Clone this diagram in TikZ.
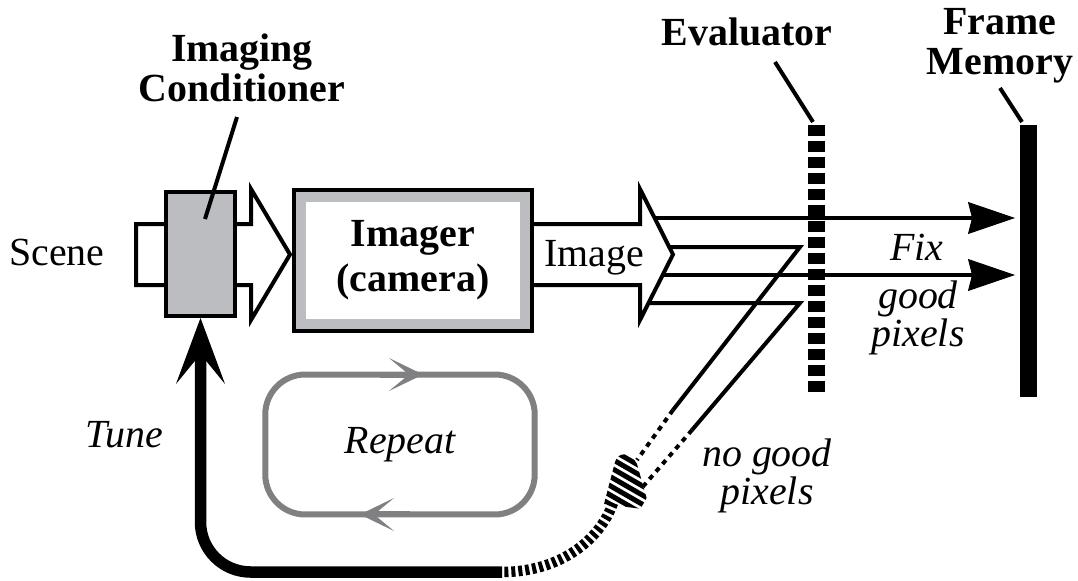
\documentclass[tikz,border=0pt]{standalone}
\usepackage{fontspec}
\setmainfont{Liberation Serif}
\usetikzlibrary{arrows.meta,calc}
\definecolor{boxgray}{RGB}{188,189,192}
\definecolor{loopgray}{RGB}{128,128,131}
\tikzset{
  big/.style={font=\fontsize{22.7}{22.8}\selectfont,inner sep=0pt},
  title/.style={big,font=\bfseries\fontsize{22.7}{22.8}\selectfont,align=center},
  note/.style={big,font=\itshape\fontsize{22.7}{22.8}\selectfont,align=center},
  block/.style={draw,fill=white,line join=miter},
  condbox/.style={draw,fill=boxgray,minimum width=1.38cm,minimum height=2.48cm,inner sep=0pt,outer sep=0pt},
  imgbox/.style={draw,fill=white,minimum width=4.76cm,minimum height=2.82cm,outer sep=0pt,align=center,
    font=\bfseries\fontsize{22.7}{25.6}\selectfont},
  loopbox/.style={draw=loopgray,line width=0.12cm,rounded corners=0.8cm,minimum width=5.39cm,
    minimum height=2.8cm,outer sep=0pt,font=\itshape\fontsize{22.7}{22.8}\selectfont},
  looptip/.style={loopgray,line width=0.12cm,-{Stealth[length=0.68cm,width=0.66cm,inset=0.4cm,line width=0.5pt]}},
  fwd/.style={-{Stealth[length=0.94cm,width=0.64cm,inset=0.08cm,line width=0.5pt]},shorten >=0.1cm},
  dots/.style={dash pattern=on 0.1cm off 0.1cm},
  tune/.style={line width=0.23cm,rounded corners=1cm,-{Stealth[length=1.32cm,width=0.98cm,inset=0.6cm,line width=0.5pt]}},
  stripes/.style={line width=0.21cm,dash pattern=on 0.08cm off 0.06cm},
  evalbar/.style={line width=0.34cm,dash pattern=on 0.22cm off 0.1cm},
  membar/.style={fill,minimum width=0.34cm,minimum height=5.44cm,inner sep=0pt,outer sep=0pt}
}

\begin{document}
\begin{tikzpicture}[x=0.02cm,y=-0.02cm,line width=0.08cm]
  \useasboundingbox (0,0) rectangle (1078,581);
  \node[membar] (M) at (1028.5,261) {};
  \coordinate (E1) at (816.5,125);
  \coordinate (E2) at (816.5,393);
  \coordinate (Z1) at (800,247);
  \coordinate (Z2) at (800,303);

  \draw[fwd] (645,218) -- (645,218 -| M.west);
  \draw[fwd] (645,275) -- (645,275 -| M.west);
  \draw (645,247) -- (Z1) -- (673,410);
  \draw[dots] (673,410) -- (637,460);
  \draw (645,303) -- (Z2) -- (692,430);
  \draw[dots] (692,430) -- (640,490);

  \draw[block] (532,224) -- (640,224) -- (640,189) -- (673,254.5) -- (640,320) -- (640,285) -- (532,285);
  \node[big,anchor=base] (img) at (594,266) {Image};
  \draw[block] (136,224) -- (251,224) -- (251,189) -- (290,254.5) -- (251,320) -- (251,285) -- (136,285) -- cycle;
  \node[big,anchor=base] (scn) at (57,265) {Scene};
  \node[condbox] (C) at (200.5,254) {};
  \node[imgbox] (I) at (413,260.5) {Imager\\(camera)};
  \draw[boxgray,line width=0.2cm] ([shift={(0.14cm,-0.14cm)}]I.north west)
    rectangle ([shift={(-0.14cm,0.14cm)}]I.south east);

  \draw[evalbar] (E1) -- (E2);
  \node[title,anchor=south] (lC) at (242,104) {Imaging\\Conditioner};
  \node[title,anchor=south] (lE) at (747,48) {Evaluator};
  \node[title,anchor=south] (lM) at (1000,85) {Frame\\Memory};
  \draw ($(lC.south)+(-5,13)$) -- ($(C.center)+(4.5,-35)$);
  \draw ($(lE.south)+(28,14)$) -- ($(E1)+(-3.5,-3)$);
  \draw ($(lM.south)+(0,3)$) -- ($(M.north)+(-6.5,-3)$);

  \node[note,anchor=base] (fix) at (917,260) {Fix};
  \node[note,anchor=south] (good) at (918,357) {good\\[-0.04cm]pixels};
  \node[note,anchor=south] (bad) at (767,515) {no good\\[-0.04cm]pixels};
  \node[note,anchor=base] (tn) at (124,447) {Tune};

  \node[loopbox] (R) at (400,444.5) {Repeat};
  \draw[looptip] ([xshift=-0.4cm]R.north) -- ([xshift=0.46cm]R.north);
  \draw[looptip] ([xshift=0.2cm]R.south) -- ([xshift=-0.8cm]R.south);

  \draw[tune] (502,572) -| ([yshift=-0.04cm]C.south);
  \draw[stripes] (613,503) .. controls (600,540) and (560,572) .. (502,572);
  \begin{scope}
    \clip (604,504) -- (615,462) .. controls (618,451) and (631,452) .. (637,464) -- (650,510) -- cycle;
    \draw[stripes,line width=1.2cm,dash pattern=on 0.1cm off 0.06cm] (650,432) -- (596,526);
  \end{scope}
\end{tikzpicture}
\end{document}
